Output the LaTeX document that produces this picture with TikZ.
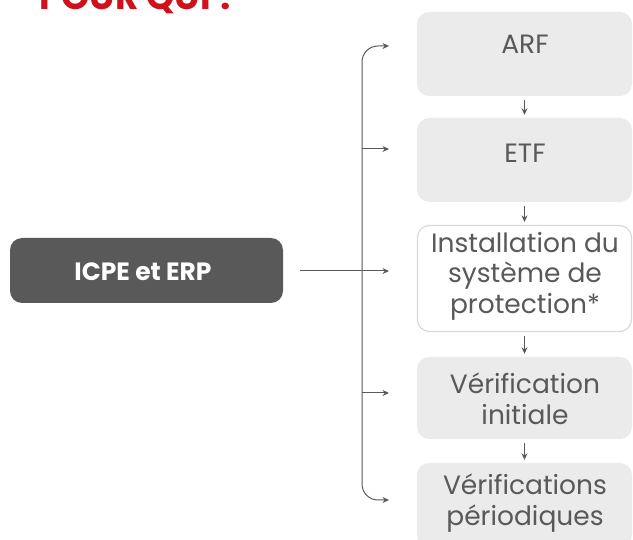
\documentclass[tikz,border=0pt]{standalone}
\usepackage{fontspec}
\setmainfont{Poppins}
\usetikzlibrary{arrows.meta,calc}
\definecolor{boxgray}{HTML}{EBEBEB}
\definecolor{txtgray}{HTML}{595959}
\definecolor{linegray}{HTML}{595959}
\definecolor{bordergray}{HTML}{D9D9D9}
\definecolor{titlered}{HTML}{D0101A}
\tikzset{
  stepbox/.style={draw=none, fill=boxgray, rounded corners=12pt, minimum width=215pt, inner sep=0pt},
  openbox/.style={draw=bordergray, line width=1.2pt, fill=white, rounded corners=12pt, minimum width=214pt, inner sep=0pt},
  steptext/.style={text=txtgray, font=\fontsize{26.5}{30.5}\selectfont, align=center, inner sep=0pt},
  arr/.style={draw=linegray, line width=1pt, -{Stealth[length=6.5pt,width=6pt]}},
  darr/.style={draw=linegray, line width=1pt, {Stealth[length=6.5pt,width=6pt]}-{Stealth[length=6.5pt,width=6pt]}},
  varr/.style={arr, shorten <=4pt, shorten >=3pt},
}
\begin{document}
\begin{tikzpicture}[x=1pt,y=-1pt]
\useasboundingbox (0,0) rectangle (633,540);
% title
\node[anchor=base west, text=titlered, font=\fontsize{36}{36}\selectfont\bfseries, inner sep=0pt] (title) at (39,10) {POUR QUI ?};
% source box
\node[fill=txtgray, rounded corners=12pt, minimum width=273pt, minimum height=65pt, inner sep=0pt] (icpe) at (146.5,270.5) {};
\node[text=white, font=\fontsize{25}{28}\selectfont\bfseries, inner sep=0pt] (icpet) at (143,272) {ICPE et ERP};
% step boxes
\node[stepbox, minimum height=84pt] (b1) at (524.5,54) {};
\node[stepbox, minimum height=84pt] (b2) at (524.5,160) {};
\node[openbox, minimum height=106pt] (b3) at (524.5,278.5) {};
\node[stepbox, minimum height=82pt] (b4) at (524.5,398) {};
\node[stepbox, minimum height=84pt] (b5) at (524.5,505) {};
% texts
\node[steptext] (t1) at (525,44) {ARF};
\node[steptext] (t2) at (525,153) {ETF};
\node[steptext] (t3) at (525,276) {Installation du\\système de\\protection*};
\node[steptext] (t4) at (525,399) {Vérification\\initiale};
\node[steptext] (t5) at (525,503) {Vérifications\\périodiques};
% down arrows
\draw[varr] (b1) -- (b2);
\draw[varr] (b2) -- (b3);
\draw[varr] (b3) -- (b4);
\draw[varr] (b4) -- (b5);
% bracket
\coordinate (e1) at (389,46);
\coordinate (e2) at (389,149);
\coordinate (e3) at (389,271);
\coordinate (e4) at (389,393);
\coordinate (e5) at (389,500);
\coordinate (s2) at (362,149);
\coordinate (s4) at (362,393);
\coordinate (src) at (300,271);
\draw[darr, rounded corners=16pt] (e1) -- (362,46) -- (362,500) -- (e5);
\draw[arr] (s2) -- (e2);
\draw[arr] (s4) -- (e4);
\draw[arr] (src) -- (e3);
\end{tikzpicture}
\end{document}
